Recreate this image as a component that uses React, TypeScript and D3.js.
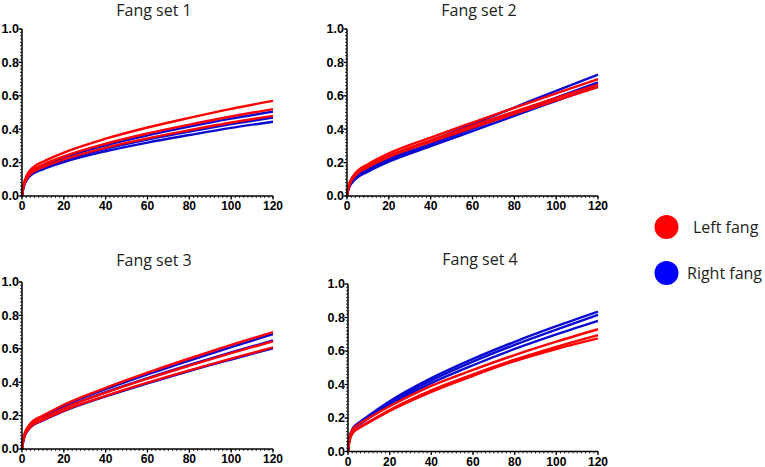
import React from "react";
import * as d3 from "d3";

const timePoints = [0, 0.5, 1, 2, 3, 5, 10, 20, 40, 60, 80, 100, 120];
const xTicks = [0, 20, 40, 60, 80, 100, 120];
const yTicks = [0, 0.2, 0.4, 0.6, 0.8, 1.0];
const panelTitles = ["Fang set 1", "Fang set 2", "Fang set 3", "Fang set 4"];
const legendLabels = ["Left fang", "Right fang"];

const set1Left = [
  [0, 0.05, 0.08, 0.115, 0.14, 0.169, 0.205, 0.26, 0.343, 0.41, 0.468, 0.522, 0.57],
  [0, 0.046, 0.073, 0.105, 0.128, 0.154, 0.187, 0.237, 0.313, 0.374, 0.427, 0.476, 0.52],
  [0, 0.042, 0.067, 0.097, 0.118, 0.142, 0.173, 0.219, 0.289, 0.345, 0.394, 0.44, 0.48],
];
const set1Right = [
  [0, 0.044, 0.071, 0.102, 0.124, 0.15, 0.182, 0.23, 0.304, 0.363, 0.415, 0.463, 0.505],
  [0, 0.041, 0.066, 0.095, 0.116, 0.139, 0.169, 0.214, 0.283, 0.338, 0.386, 0.43, 0.47],
  [0, 0.039, 0.062, 0.09, 0.109, 0.132, 0.16, 0.203, 0.268, 0.32, 0.365, 0.408, 0.445],
];
const set2Left = [
  [0, 0.045, 0.07, 0.1, 0.12, 0.15, 0.19, 0.255, 0.35, 0.44, 0.528, 0.615, 0.7],
  [0, 0.04, 0.065, 0.093, 0.112, 0.14, 0.18, 0.24, 0.333, 0.421, 0.505, 0.587, 0.667],
  [0, 0.04, 0.062, 0.09, 0.108, 0.135, 0.173, 0.233, 0.324, 0.41, 0.492, 0.573, 0.652],
];
const set2Right = [
  [0, 0.035, 0.055, 0.08, 0.097, 0.125, 0.165, 0.225, 0.33, 0.43, 0.53, 0.63, 0.727],
  [0, 0.035, 0.055, 0.08, 0.095, 0.12, 0.155, 0.215, 0.31, 0.403, 0.497, 0.589, 0.68],
  [0, 0.032, 0.05, 0.073, 0.088, 0.112, 0.146, 0.205, 0.298, 0.389, 0.48, 0.57, 0.66],
];
const set3Left = [
  [0, 0.05, 0.08, 0.115, 0.135, 0.165, 0.2, 0.265, 0.366, 0.457, 0.542, 0.623, 0.7],
  [0, 0.046, 0.073, 0.106, 0.124, 0.152, 0.184, 0.244, 0.337, 0.421, 0.499, 0.574, 0.645],
  [0, 0.043, 0.069, 0.1, 0.117, 0.143, 0.174, 0.23, 0.318, 0.397, 0.471, 0.541, 0.608],
];
const set3Right = [
  [0, 0.048, 0.077, 0.11, 0.13, 0.159, 0.194, 0.259, 0.358, 0.447, 0.53, 0.61, 0.688],
  [0, 0.046, 0.074, 0.107, 0.125, 0.153, 0.186, 0.246, 0.34, 0.424, 0.503, 0.578, 0.65],
  [0, 0.041, 0.066, 0.097, 0.114, 0.14, 0.171, 0.227, 0.315, 0.393, 0.467, 0.536, 0.603],
];
const set4Left = [
  [0, 0.06, 0.095, 0.126, 0.143, 0.162, 0.2, 0.27, 0.392, 0.487, 0.576, 0.656, 0.73],
  [0, 0.05, 0.08, 0.108, 0.124, 0.141, 0.178, 0.248, 0.365, 0.46, 0.548, 0.625, 0.695],
  [0, 0.048, 0.077, 0.105, 0.12, 0.137, 0.173, 0.242, 0.356, 0.452, 0.54, 0.612, 0.675],
];
const set4Right = [
  [0, 0.06, 0.095, 0.13, 0.15, 0.17, 0.215, 0.3, 0.438, 0.553, 0.655, 0.748, 0.835],
  [0, 0.058, 0.092, 0.126, 0.145, 0.165, 0.208, 0.29, 0.425, 0.537, 0.637, 0.728, 0.815],
  [0, 0.056, 0.088, 0.121, 0.139, 0.158, 0.2, 0.279, 0.408, 0.515, 0.612, 0.699, 0.78],
];

const leftSets = [set1Left, set2Left, set3Left, set4Left];
const rightSets = [set1Right, set2Right, set3Right, set4Right];

const RED = "#ff0000";
const BLUE = "#0a0ad2";
const LEGEND_BLUE = "#0000ff";

const layouts = [
  { x0: 22, x1: 273, yTop: 29, yBot: 196, titleY: 15.5 },
  { x0: 347, x1: 598, yTop: 29, yBot: 196, titleY: 15.5 },
  { x0: 22, x1: 273, yTop: 282, yBot: 449, titleY: 265.5 },
  { x0: 348, x1: 598, yTop: 284, yBot: 451.5, titleY: 264.5 },
];

function Panel({ idx }: { idx: number }) {
  const L = layouts[idx];
  const x = d3.scaleLinear().domain([0, 120]).range([L.x0, L.x1]);
  const y = d3.scaleLinear().domain([0, 1]).range([L.yBot, L.yTop]);
  const line = d3
    .line<number>()
    .x((_, i) => x(timePoints[i]))
    .y((d) => y(d))
    .curve(d3.curveMonotoneX);
  const yMinor = d3.range(0, 1.0001, 0.02);
  const xMinor = d3.range(0, 120.001, 2);
  const tickFont = "'Liberation Sans', Arial, sans-serif";
  return (
    <g>
      <text
        x={L.x0 + 132}
        y={L.titleY}
        textAnchor="middle"
        fontFamily="'Open Sans', sans-serif"
        fontSize={16}
        fill="#231f20"
      >
        {panelTitles[idx]}
      </text>
      {rightSets[idx].map((s, i) => (
        <path key={"r" + i} d={line(s) || ""} fill="none" stroke={BLUE} strokeWidth={2.4} />
      ))}
      {leftSets[idx].map((s, i) => (
        <path key={"l" + i} d={line(s) || ""} fill="none" stroke={RED} strokeWidth={2.4} />
      ))}
      <line x1={L.x0} x2={L.x0} y1={L.yBot} y2={L.yTop} stroke="#000" strokeWidth={1.5} />
      {yMinor.map((v, i) => (
        <line key={"ym" + i} x1={L.x0 - 2} x2={L.x0} y1={y(v)} y2={y(v)} stroke="#000" strokeWidth={0.8} />
      ))}
      {yTicks.map((v) => (
        <g key={"yt" + v}>
          <line x1={L.x0 - 3.5} x2={L.x0} y1={y(v)} y2={y(v)} stroke="#000" strokeWidth={1.3} />
          <text
            x={L.x0 - 3}
            y={y(v) + 4.3}
            textAnchor="end"
            fontFamily={tickFont}
            fontWeight="bold"
            fontSize={12.5}
            fill="#000"
          >
            {v.toFixed(1)}
          </text>
        </g>
      ))}
      <line x1={L.x0} x2={L.x1} y1={L.yBot} y2={L.yBot} stroke="#000" strokeWidth={1.5} />
      {xMinor.map((v, i) => (
        <line key={"xm" + i} x1={x(v)} x2={x(v)} y1={L.yBot} y2={L.yBot + 2} stroke="#000" strokeWidth={0.8} />
      ))}
      {xTicks.map((v) => (
        <g key={"xt" + v}>
          <line x1={x(v)} x2={x(v)} y1={L.yBot} y2={L.yBot + 3.5} stroke="#000" strokeWidth={1.3} />
          <text
            x={x(v)}
            y={L.yBot + 14}
            textAnchor="middle"
            fontFamily={tickFont}
            fontWeight="bold"
            fontSize={12}
            fill="#000"
          >
            {v}
          </text>
        </g>
      ))}
    </g>
  );
}

export default function App() {
  const legendColors = [RED, LEGEND_BLUE];
  const legendY = [227, 273];
  const legendTextX = [693, 687];
  return (
    <svg
      width={765}
      height={467}
      style={{ position: "absolute", left: 0, top: 0, background: "#fff" }}
    >
      <rect width={765} height={467} fill="#fff" />
      {[0, 1, 2, 3].map((i) => (
        <Panel key={i} idx={i} />
      ))}
      {legendLabels.map((lab, i) => (
        <g key={lab}>
          <circle cx={666.5} cy={legendY[i]} r={12} fill={legendColors[i]} />
          <text
            x={legendTextX[i]}
            y={legendY[i] + 6}
            fontFamily="'Open Sans', sans-serif"
            fontSize={16}
            fill="#231f20"
          >
            {lab}
          </text>
        </g>
      ))}
    </svg>
  );
}
